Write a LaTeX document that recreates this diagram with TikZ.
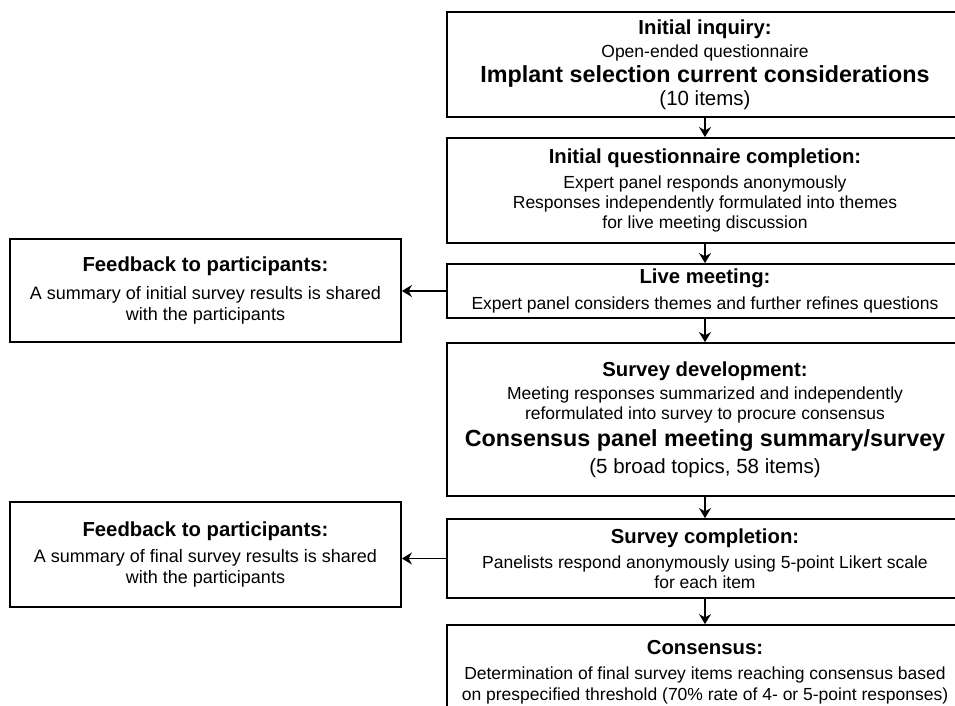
\documentclass[tikz,border=0pt]{standalone}
\usepackage{fontspec}
\setmainfont{Liberation Sans}
\usetikzlibrary{arrows.meta}
\setlength{\lineskiplimit}{-30pt}

\begin{document}
\begin{tikzpicture}[x=1pt, y=-1pt, line width=1.8pt,
    stage/.style={draw, minimum width=516pt, align=center, inner sep=0pt,
      font=\fontsize{17.5}{20}\selectfont},
    feedback/.style={draw, minimum width=391pt, align=center, inner sep=0pt,
      font=\fontsize{18}{20}\selectfont},
    arr/.style={line width=1.4pt, -{Stealth[length=10pt, width=12pt]}}]

    \def\hd{\fontsize{20.3}{24}\selectfont\bfseries}
    \def\keyline{\fontsize{23.3}{26}\selectfont\bfseries}
    \def\countline{\fontsize{20.5}{24}\selectfont}

    \useasboundingbox (0,0) rectangle (955,706);
    \clip (0,0) rectangle (955,706);

    % main column
    \node[stage, minimum height=105pt] (inquiry) at (705,64.5)
      {\hd Initial inquiry:\\[3.5pt]
       Open-ended questionnaire\\[4.5pt]
       \keyline Implant selection current considerations\\[3pt]
       \countline (10 items)};

    \node[stage, minimum height=105pt] (completion) at (705,190.5)
      {\hd Initial questionnaire completion:\\[4.5pt]
       Expert panel responds anonymously\\
       Responses independently formulated into themes\\
       for live meeting discussion};

    \node[stage, minimum height=54pt] (live) at (705,291)
      {\hd Live meeting:\\[6.5pt]
       Expert panel considers themes and further refines questions};

    \node[stage, minimum height=153pt] (development) at (705,419.5)
      {\hd Survey development:\\[3.5pt]
       Meeting responses summarized and independently\\
       reformulated into survey to procure consensus\\[6.5pt]
       \keyline Consensus panel meeting summary/survey\\[7pt]
       \countline (5 broad topics, 58 items)};

    \node[stage, minimum height=79pt] (survey) at (705,558.5)
      {\hd Survey completion:\\[5pt]
       Panelists respond anonymously using 5-point Likert scale\\[0.5pt]
       for each item};

    \node[stage, minimum height=94pt] (consensus) at (705,672)
      {\hd Consensus:\\[5pt]
       Determination of final survey items reaching consensus based\\[0.5pt]
       on prespecified threshold (70\% rate of 4- or 5-point responses)};

    % feedback boxes
    \node[feedback, minimum height=103pt] (fbinitial) at (205.5,290.5)
      {\hd Feedback to participants:\\[8.5pt]
       A summary of initial survey results is shared\\[0.5pt]
       with the participants};

    \node[feedback, minimum height=105pt] (fbfinal) at (205.5,554.5)
      {\hd Feedback to participants:\\[6.5pt]
       A summary of final survey results is shared\\[0.5pt]
       with the participants};

    \draw[arr] (inquiry) -- (completion);
    \draw[arr] (completion) -- (live);
    \draw[arr] (live) -- (development);
    \draw[arr] (development) -- (survey);
    \draw[arr] (survey) -- (consensus);

    \draw[arr, line width=1.8pt] (live.west) -- (live.west -| fbinitial.east);
    \draw[arr, line width=1.8pt] (survey.west) -- (survey.west -| fbfinal.east);

\end{tikzpicture}
\end{document}
